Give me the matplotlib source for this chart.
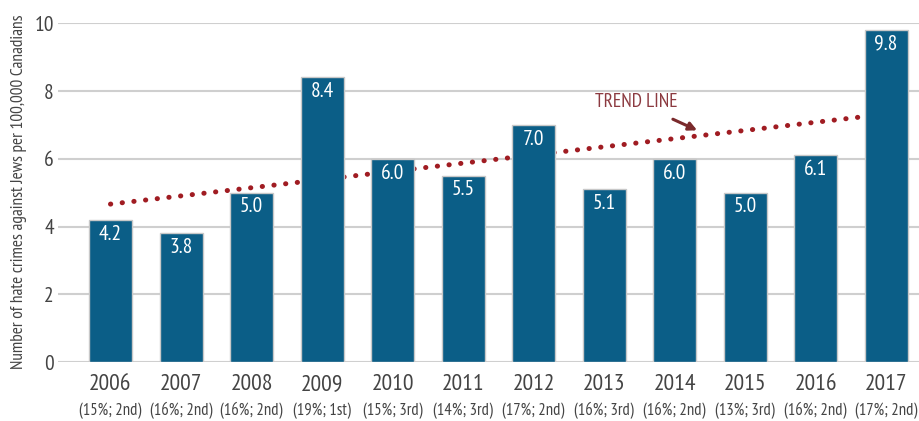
import matplotlib.pyplot as plt
import numpy as np

years = ['2006', '2007', '2008', '2009', '2010', '2011', '2012', '2013', '2014', '2015', '2016', '2017']
shares = ['(15%; 2nd)', '(16%; 2nd)', '(16%; 2nd)', '(19%; 1st)', '(15%; 3rd)', '(14%; 3rd)',
          '(17%; 2nd)', '(16%; 3rd)', '(16%; 2nd)', '(13%; 3rd)', '(16%; 2nd)', '(17%; 2nd)']
valores = [4.2, 3.8, 5.0, 8.4, 6.0, 5.5, 7.0, 5.1, 6.0, 5.0, 6.1, 9.8]

# fuente estrecha parecida a la del original
plt.rcParams['font.family'] = ['PT Sans Narrow', 'DejaVu Sans']

azul = '#0b5e87'
rojo = '#a01c22'
gris = '#444444'

fig = plt.figure(figsize=(9.2, 4.21), dpi=100)
ax = fig.add_axes([0.063, 0.14, 0.937, 0.8047])

x = np.arange(len(years))
ax.bar(x, valores, width=0.61, color=azul, edgecolor='#c8c8c8', linewidth=1, zorder=3)

# linea de tendencia (ajuste lineal)
m, b = np.polyfit(x, valores, 1)
xt = np.array([0, 11])
ax.plot(xt, m * xt + b, color=rojo, linewidth=3.6, linestyle=(0, (0.05, 2.3)),
        dash_capstyle='round', zorder=2)

for xi, v in zip(x, valores):
    ax.text(xi, v - 0.14, f'{v:.1f}', color='white', fontsize=15.5, ha='center', va='top', zorder=4)

ax.annotate('TREND LINE', xy=(8.32, 6.84), xytext=(7.45, 7.67), ha='center', va='center',
            fontsize=14, color='#8c3a40',
            arrowprops=dict(arrowstyle='-|>', color='#7a2a2c', lw=2.2, mutation_scale=12,
                            shrinkA=9, shrinkB=0))

ax.set_xlim(-0.745, 11.48)
ax.set_ylim(0, 10)
ax.set_yticks([0, 2, 4, 6, 8, 10])
ax.grid(axis='y', color='#cfcfcf', linewidth=1.5, zorder=0)
ax.set_axisbelow(True)
for s in ax.spines.values():
    s.set_visible(False)
ax.tick_params(axis='y', length=0, labelsize=15.5, colors=gris, pad=3)
ax.tick_params(axis='x', length=0)
ax.set_xticks(x)
ax.set_xticklabels([])
for xi, yr, sh in zip(x, years, shares):
    ax.text(xi, -0.65, yr, ha='center', va='center', fontsize=17, color=gris, clip_on=False)
    ax.text(xi, -1.43, sh, ha='center', va='center', fontsize=12, color=gris, clip_on=False)

fig.text(19 / 920, 1 - 192 / 421, 'Number of hate crimes against Jews per 100,000 Canadians',
         rotation=90, ha='center', va='center', fontsize=12.5, color=gris)

plt.savefig('out.png', dpi=100)
